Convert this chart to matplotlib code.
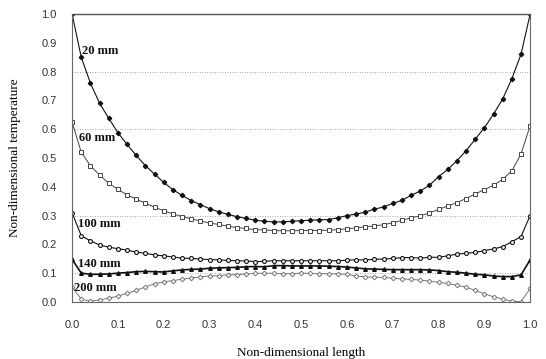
import matplotlib
matplotlib.use("Agg")
import matplotlib.pyplot as plt

# non-dimensional length (grid of calculation points)
x = [0.00, 0.02, 0.04, 0.06, 0.08, 0.10, 0.12, 0.14, 0.16, 0.18,
     0.20, 0.22, 0.24, 0.26, 0.28, 0.30, 0.32, 0.34, 0.36, 0.38,
     0.40, 0.42, 0.44, 0.46, 0.48, 0.50, 0.52, 0.54, 0.56, 0.58,
     0.60, 0.62, 0.64, 0.66, 0.68, 0.70, 0.72, 0.74, 0.76, 0.78,
     0.80, 0.82, 0.84, 0.86, 0.88, 0.90, 0.92, 0.94, 0.96, 0.98, 1.00]

t20 = [1.0, 0.85, 0.76, 0.69, 0.638, 0.588, 0.547, 0.509, 0.473, 0.444,
       0.415, 0.39, 0.37, 0.352, 0.338, 0.324, 0.313, 0.304, 0.296, 0.29,
       0.284, 0.28, 0.278, 0.278, 0.28, 0.282, 0.284, 0.285, 0.286, 0.292,
       0.30, 0.305, 0.312, 0.322, 0.33, 0.342, 0.353, 0.37, 0.385, 0.405,
       0.435, 0.46, 0.49, 0.525, 0.565, 0.605, 0.652, 0.705, 0.775, 0.86, 1.0]

t60 = [0.625, 0.52, 0.473, 0.441, 0.412, 0.391, 0.372, 0.357, 0.343, 0.329,
       0.317, 0.306, 0.296, 0.289, 0.281, 0.274, 0.269, 0.263, 0.258, 0.255,
       0.251, 0.25, 0.248, 0.247, 0.247, 0.248, 0.248, 0.248, 0.249, 0.251,
       0.254, 0.257, 0.261, 0.264, 0.268, 0.275, 0.283, 0.292, 0.299, 0.309,
       0.321, 0.333, 0.345, 0.359, 0.375, 0.39, 0.405, 0.426, 0.455, 0.514, 0.612]

t100 = [0.31, 0.23, 0.212, 0.198, 0.19, 0.185, 0.18, 0.173, 0.169, 0.163,
        0.16, 0.156, 0.152, 0.151, 0.149, 0.147, 0.146, 0.144, 0.143, 0.142,
        0.14, 0.141, 0.143, 0.143, 0.143, 0.143, 0.143, 0.143, 0.143, 0.143,
        0.145, 0.146, 0.146, 0.148, 0.149, 0.151, 0.154, 0.154, 0.152, 0.155,
        0.155, 0.16, 0.166, 0.169, 0.172, 0.178, 0.184, 0.192, 0.209, 0.227, 0.30]

t140 = [0.148, 0.10, 0.096, 0.096, 0.097, 0.10, 0.102, 0.105, 0.106, 0.105,
        0.104, 0.108, 0.111, 0.113, 0.114, 0.117, 0.118, 0.119, 0.12, 0.122,
        0.123, 0.122, 0.126, 0.126, 0.125, 0.125, 0.125, 0.125, 0.124, 0.123,
        0.121, 0.118, 0.115, 0.114, 0.113, 0.112, 0.112, 0.112, 0.112, 0.111,
        0.109, 0.105, 0.103, 0.10, 0.096, 0.094, 0.09, 0.088, 0.088, 0.094, 0.146]

t200 = [0.052, 0.01, 0.002, 0.007, 0.013, 0.02, 0.03, 0.04, 0.052, 0.063,
        0.07, 0.074, 0.079, 0.083, 0.087, 0.09, 0.091, 0.094, 0.095, 0.097,
        0.099, 0.1, 0.099, 0.098, 0.098, 0.1, 0.099, 0.098, 0.098, 0.097,
        0.096, 0.09, 0.087, 0.086, 0.085, 0.082, 0.08, 0.078, 0.076, 0.072,
        0.068, 0.064, 0.058, 0.051, 0.04, 0.028, 0.018, 0.01, 0.002, 0.001, 0.047]

labels = ["20 mm", "60 mm", "100 mm", "140 mm", "200 mm"]
label_pos = [(0.022, 0.87), (0.016, 0.57), (0.013, 0.27), (0.013, 0.13), (0.004, 0.048)]

fig = plt.figure(figsize=(5.46, 3.59), dpi=100)
ax = fig.add_axes([0.132, 0.159, 0.839, 0.802])

ax.plot(x, t20, color="#111111", lw=0.8, marker="D", ms=2.2, mfc="#111111", mec="#111111")
ax.plot(x, t60, color="#444444", lw=0.7, marker="s", ms=2.6, mfc="white", mec="#444444", mew=0.7)
ax.plot(x, t100, color="#111111", lw=0.8, marker="o", ms=2.8, mfc="white", mec="#111111", mew=0.8)
ax.plot(x, t140, color="#111111", lw=1.2, marker="^", ms=2.6, mfc="#111111", mec="#111111")
ax.plot(x, t200, color="#777777", lw=0.7, marker="D", ms=2.4, mfc="white", mec="#777777", mew=0.7)

# faint dotted horizontal lines seen in the scan
for gy in [0.1, 0.3, 0.6, 0.8]:
    ax.axhline(gy, color="#888888", lw=0.6, ls=(0, (1, 2)), zorder=0)

for txt, (lx, ly) in zip(labels, label_pos):
    ax.text(lx, ly, txt, family="Liberation Serif", fontsize=9, fontweight="bold",
            va="center", ha="left", color="#111111")

ax.set_xlim(0, 1.0)
ax.set_ylim(0, 1.0)
ax.set_xticks([i / 10 for i in range(11)])
ax.set_yticks([i / 10 for i in range(11)])
ax.set_xticklabels(["%.1f" % (i / 10) for i in range(11)])
ax.set_yticklabels(["%.1f" % (i / 10) for i in range(11)])
ax.tick_params(length=0, labelsize=8, labelcolor="#333333")
ax.tick_params(axis="x", pad=13)
ax.tick_params(axis="y", pad=11)
for lab in ax.get_xticklabels() + ax.get_yticklabels():
    lab.set_family("Liberation Sans")

ax.spines["top"].set_color("#555555")
ax.spines["top"].set_linewidth(1.0)
for s in ["left", "right", "bottom"]:
    ax.spines[s].set_color("#666666")
    ax.spines[s].set_linewidth(0.8)
    ax.spines[s].set_linestyle((0, (1, 1)))

ax.set_xlabel("Non-dimensional length", family="Liberation Serif", fontsize=9.5, labelpad=12)
ax.set_ylabel("Non-dimensional temperature", family="Liberation Serif", fontsize=9.5, labelpad=15)

fig.savefig("out.png", dpi=100)
